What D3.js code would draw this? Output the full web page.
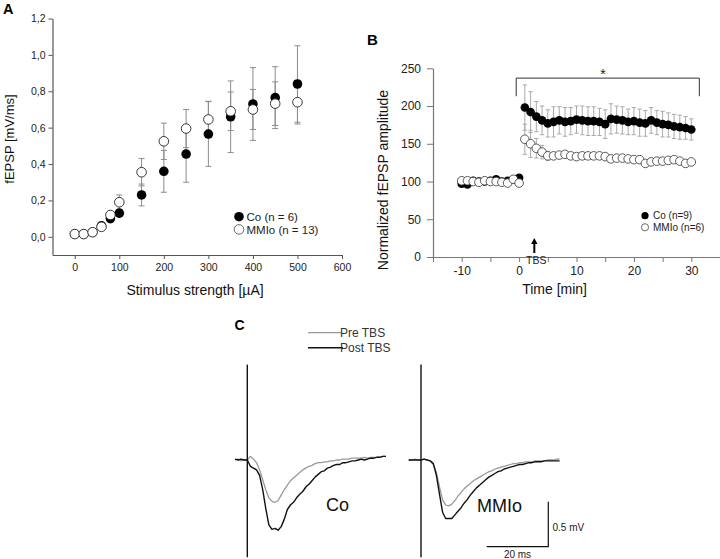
<!DOCTYPE html>
<html><head><meta charset="utf-8">
<script src="https://cdn.jsdelivr.net/npm/d3@7"></script>
<style>
body{margin:0;background:#fff}
svg{display:block}
text{font-family:"Liberation Sans",Arial,Helvetica,sans-serif}
</style>
</head><body>
<svg id="fig" width="720" height="559"></svg>
<script>
// ---------- Panel A data ----------
const stimStrength = [0,20,40,60,80,100,150,200,250,300,350,400,450,500];
const coA      = [0.015,0.015,0.025,0.06,0.10,0.13,0.23,0.36,0.455,0.565,0.66,0.73,0.765,0.84];
const coASE    = [0.005,0.005,0.008,0.01,0.015,0.02,0.06,0.115,0.155,0.178,0.197,0.2,0.17,0.21];
const mmA      = [0.015,0.015,0.025,0.055,0.12,0.19,0.355,0.525,0.595,0.645,0.69,0.70,0.732,0.74];
const mmASE    = [0.005,0.005,0.01,0.01,0.015,0.04,0.075,0.1,0.105,0.1,0.106,0.11,0.12,0.12];
const aYTicks  = [0,0.2,0.4,0.6,0.8,1.0,1.2];
const aXTicks  = [0,100,200,300,400,500,600];

// ---------- Panel B data ----------
const timeBase = [-10,-9,-8,-7,-6,-5,-4,-3,-2,-1,0];
const coBase   = [97,96,101,100,100,101,103,100,101,103,105];
const mmBase   = [101,101,100,99,101,100,100,99,98,103,98];
const baseSE   = [3,3,3,3,3,3,3,3,3,3,3];
const timePost = [1,2,3,4,5,6,7,8,9,10,11,12,13,14,15,16,17,18,19,20,21,22,23,24,25,26,27,28,29,30];
const coPost   = [198,192,186,181,177,179,181,179,180,182,181,180,180,179,176,183,182,181,179,180,178,177,181,178,176,175,173,172,171,169];
const coPostSE = [30,27,20,19,18,20,18,19,18,18,19,19,19,18,19,20,18,18,17,18,18,17,17,16,17,16,16,16,15,14];
const mmPost   = [156,150,144,139,134,134,135,136,134,133,134,134,134,134,133,130,131,131,130,129,129,124,126,127,127,128,129,127,124,126];
const mmPostSE = [20,18,13,9,6,4,4,4,4,4,4,4,4,4,4,4,4,4,4,4,4,4,4,4,4,4,4,4,4,4];
const bYTicks  = [0,50,100,150,200,250];
const bXTicks  = [-15,-10,-5,0,5,10,15,20,25,30,35];
const bXLabels = [-10,0,10,20,30];

// ---------- Panel C data (ms, mV) ----------
const traceTime = [-4,-3,-2,-1,0,1,2,3,4,5,6,7,8,9,10,11,12,13,14,15,16,17,18,19,20,21,22,23,24,25,26,27,28,29,30,31,32,33,34,35,36,37,38,39,40,41,42,43,44,45];
const coPreTBS  = [0,0.01,-0.01,0,0,0.04,0.01,-0.03,-0.11,-0.22,-0.33,-0.42,-0.46,-0.47,-0.45,-0.39,-0.33,-0.28,-0.23,-0.20,-0.17,-0.14,-0.11,-0.09,-0.07,-0.06,-0.04,-0.03,-0.03,-0.02,-0.02,-0.01,-0.01,0,0,0.01,0.01,0.01,0.02,0.02,0.02,0.02,0.03,0.02,0.03,0.03,0.03,0.03,0.04,0.04];
const coPostTBS = [0.01,0,0.01,0,0,-0.07,-0.09,-0.11,-0.17,-0.33,-0.54,-0.72,-0.77,-0.76,-0.78,-0.74,-0.66,-0.55,-0.50,-0.47,-0.42,-0.38,-0.35,-0.30,-0.27,-0.23,-0.19,-0.16,-0.13,-0.12,-0.09,-0.08,-0.06,-0.05,-0.05,-0.03,-0.03,-0.02,-0.01,-0.01,0,0.01,0,0.01,0.02,0.02,0.03,0.03,0.04,0.04];
const mmPreTBS  = [0,0,0.01,0,0,0.01,0,-0.01,-0.05,-0.14,-0.30,-0.44,-0.50,-0.51,-0.49,-0.45,-0.40,-0.36,-0.32,-0.29,-0.26,-0.23,-0.21,-0.19,-0.17,-0.15,-0.13,-0.12,-0.10,-0.09,-0.08,-0.07,-0.06,-0.05,-0.04,-0.04,-0.03,-0.03,-0.02,-0.02,-0.02,-0.01,-0.01,-0.01,-0.01,0,0,0,0.01,0.01];
const mmPostTBS = [0,0,0,0,0,0.01,0,-0.01,-0.04,-0.17,-0.38,-0.58,-0.65,-0.65,-0.65,-0.61,-0.57,-0.53,-0.48,-0.44,-0.39,-0.35,-0.31,-0.28,-0.25,-0.22,-0.19,-0.17,-0.15,-0.13,-0.12,-0.10,-0.09,-0.08,-0.07,-0.06,-0.05,-0.05,-0.04,-0.03,-0.03,-0.02,-0.02,-0.02,-0.01,-0.01,-0.01,-0.01,-0.01,-0.01];
const artifactRange = [1.06,-1.08];

const svg = d3.select("#fig");
const FONT = '"Liberation Sans",Arial,Helvetica,sans-serif';

function styleAxis(g, color, fs){
  g.select(".domain").attr("stroke", color).attr("stroke-width",1.2);
  g.selectAll(".tick line").attr("stroke", color).attr("stroke-width",1);
  g.selectAll(".tick text").attr("fill","#222").attr("font-size",fs).attr("font-family",FONT);
}

// ================= Panel A =================
const xA = d3.scaleLinear().domain([-50,600]).range([52.5,342]);
const yA = d3.scaleLinear().domain([-0.1,1.2]).range([255,18.5]);
const gA = svg.append("g");
gA.append("g").attr("transform","translate(0,255)")
  .call(d3.axisBottom(xA).tickValues(aXTicks).tickSize(4).tickSizeOuter(0).tickPadding(5).tickFormat(d=>String(d)))
  .call(g=>styleAxis(g,"#555",10.5));
gA.append("g").attr("transform","translate(52.5,0)")
  .call(d3.axisLeft(yA).tickValues(aYTicks).tickSize(4).tickSizeOuter(0).tickPadding(3).tickFormat(d=>d3.format(".1f")(d).replace(".",",")))
  .call(g=>styleAxis(g,"#555",10.5));

function errBars(g, xs, ys, ses, xS, yS, cap, color){
  xs.forEach((x,i)=>{
    const cx = xS(x), y1 = yS(ys[i]-ses[i]), y2 = yS(ys[i]+ses[i]);
    g.append("line").attr("x1",cx).attr("x2",cx).attr("y1",y1).attr("y2",y2).attr("stroke",color).attr("stroke-width",1);
    [y1,y2].forEach(yy=>g.append("line").attr("x1",cx-cap).attr("x2",cx+cap).attr("y1",yy).attr("y2",yy).attr("stroke",color).attr("stroke-width",1));
  });
}
errBars(gA, stimStrength, coA, coASE, xA, yA, 3, "#8c8c8c");
errBars(gA, stimStrength, mmA, mmASE, xA, yA, 3, "#8c8c8c");
gA.selectAll("circle.co").data(stimStrength).join("circle")
  .attr("cx",d=>xA(d)).attr("cy",(d,i)=>yA(coA[i])).attr("r",4.8).attr("fill","#000");
gA.selectAll("circle.mm").data(stimStrength).enter().append("circle")
  .attr("cx",d=>xA(d)).attr("cy",(d,i)=>yA(mmA[i])).attr("r",4.8).attr("fill","#fff").attr("stroke","#222").attr("stroke-width",0.9);

// legend A
gA.append("circle").attr("cx",239).attr("cy",216.7).attr("r",4.8).attr("fill","#000");
gA.append("text").attr("x",246.5).attr("y",221.3).attr("font-size",11.5).attr("fill","#222").text("Co (n = 6)");
gA.append("circle").attr("cx",239).attr("cy",229.4).attr("r",4.8).attr("fill","#fff").attr("stroke","#444").attr("stroke-width",0.8);
gA.append("text").attr("x",246.5).attr("y",234).attr("font-size",11.5).attr("fill","#222").text("MMIo (n = 13)");

gA.append("text").attr("x",195).attr("y",295).attr("text-anchor","middle").attr("font-size",14).attr("fill","#111").text("Stimulus strength [\u00B5A]");
gA.append("text").attr("transform","translate(14,139) rotate(-90)").attr("text-anchor","middle").attr("font-size",13).attr("fill","#111").text("fEPSP [mV/ms]");
gA.append("text").attr("x",3).attr("y",13.5).attr("font-size",14.5).attr("font-weight","bold").text("A");

// ================= Panel B =================
const xB = d3.scaleLinear().domain([-15,35]).range([433,720]);
const yB = d3.scaleLinear().domain([0,250]).range([257,68.3]);
const gB = svg.append("g");
gB.append("g").attr("transform","translate(0,257)")
  .call(d3.axisBottom(xB).tickValues(bXTicks).tickSize(5).tickSizeOuter(0).tickPadding(4).tickFormat(d=>bXLabels.includes(d)?String(d):""))
  .call(g=>styleAxis(g,"#777",12));
gB.append("g").attr("transform","translate(433,0)")
  .call(d3.axisLeft(yB).tickValues(bYTicks).tickSize(6).tickSizeOuter(0).tickPadding(6))
  .call(g=>styleAxis(g,"#777",12));

errBars(gB, timeBase, coBase, baseSE, xB, yB, 2, "#aaa");
errBars(gB, timeBase, mmBase, baseSE, xB, yB, 2, "#aaa");
errBars(gB, timePost, coPost, coPostSE, xB, yB, 2.2, "#aaa");
errBars(gB, timePost, mmPost, mmPostSE, xB, yB, 2.2, "#aaa");

const coAllT = timeBase.concat(timePost), coAllV = coBase.concat(coPost);
const mmAllT = timeBase.concat(timePost), mmAllV = mmBase.concat(mmPost);
coAllT.forEach((t,i)=>gB.append("circle").attr("cx",xB(t)).attr("cy",yB(coAllV[i])).attr("r",4.3).attr("fill","#000"));
mmAllT.forEach((t,i)=>gB.append("circle").attr("cx",xB(t)).attr("cy",yB(mmAllV[i])).attr("r",4.3).attr("fill","#fff").attr("stroke","#333").attr("stroke-width",0.8));

// significance bracket
gB.append("path").attr("d",`M${xB(-0.5)},${yB(213)}V${yB(237)}H${xB(31.4)}V${yB(213)}`)
  .attr("fill","none").attr("stroke","#333").attr("stroke-width",1);
gB.append("text").attr("x",xB(14.6)).attr("y",79).attr("text-anchor","middle").attr("font-size",14).attr("fill","#222").text("*");

// TBS arrow
const ax = xB(2.65);
gB.append("line").attr("x1",ax).attr("x2",ax).attr("y1",253).attr("y2",243).attr("stroke","#000").attr("stroke-width",2);
gB.append("path").attr("d",`M${ax-3.2},${244}L${ax},${238}L${ax+3.2},${244}Z`).attr("fill","#000");
gB.append("text").attr("x",526).attr("y",263.5).attr("font-size",10.5).attr("fill","#222").text("TBS");

// legend B
gB.append("circle").attr("cx",645).attr("cy",215.7).attr("r",3.6).attr("fill","#000");
gB.append("text").attr("x",653).attr("y",219.3).attr("font-size",10).attr("fill","#222").text("Co (n=9)");
gB.append("circle").attr("cx",645).attr("cy",227.3).attr("r",3.6).attr("fill","#fff").attr("stroke","#444").attr("stroke-width",0.8);
gB.append("text").attr("x",653).attr("y",231).attr("font-size",10).attr("fill","#222").text("MMIo (n=6)");

gB.append("text").attr("x",554.6).attr("y",294).attr("text-anchor","middle").attr("font-size",14).attr("fill","#111").text("Time [min]");
gB.append("text").attr("transform","translate(387.5,180) rotate(-90)").attr("text-anchor","middle").attr("font-size",14).attr("fill","#111").text("Normalized fEPSP amplitude");
gB.append("text").attr("x",367).attr("y",44.5).attr("font-size",15).attr("font-weight","bold").text("B");

// ================= Panel C =================
const xCo = d3.scaleLinear().domain([-5,46]).range([231.9,389]);
const xMM = d3.scaleLinear().domain([-5,46]).range([405.6,562.7]);
const yC  = d3.scaleLinear().domain([-1.1,1.1]).range([559,361]);
const gC = svg.append("g");
function trace(xS, vals, color, w){
  const line = d3.line().x((d,i)=>xS(traceTime[i])).y(d=>yC(d));
  gC.append("path").attr("d",line(vals)).attr("fill","none").attr("stroke",color).attr("stroke-width",w).attr("stroke-linejoin","round");
}
trace(xCo, coPreTBS, "#999", 1.3);
trace(xCo, coPostTBS, "#111", 1.4);
trace(xMM, mmPreTBS, "#999", 1.3);
trace(xMM, mmPostTBS, "#111", 1.4);
[xCo,xMM].forEach(xS=>{
  gC.append("line").attr("x1",xS(0)).attr("x2",xS(0)).attr("y1",yC(artifactRange[0])).attr("y2",yC(artifactRange[1])).attr("stroke","#111").attr("stroke-width",1.4);
});

// legend C
gC.append("line").attr("x1",308).attr("x2",341).attr("y1",332.7).attr("y2",332.7).attr("stroke","#999").attr("stroke-width",1.3);
gC.append("text").attr("x",340).attr("y",337).attr("font-size",12).attr("fill","#333").text("Pre TBS");
gC.append("line").attr("x1",308).attr("x2",343).attr("y1",347.7).attr("y2",347.7).attr("stroke","#111").attr("stroke-width",1.4);
gC.append("text").attr("x",340).attr("y",352).attr("font-size",12).attr("fill","#333").text("Post TBS");

gC.append("text").attr("x",337.5).attr("y",510.7).attr("text-anchor","middle").attr("font-size",18).attr("fill","#111").text("Co");
gC.append("text").attr("x",499.5).attr("y",512.3).attr("text-anchor","middle").attr("font-size",18).attr("fill","#111").text("MMIo");

// scale bar
const sbX = 548.3, sbY = 546.7;
const msLen = xMM(20) - xMM(0), mvLen = yC(0) - yC(0.5);
gC.append("path").attr("d",`M${sbX-msLen},${sbY}H${sbX}V${sbY-mvLen}`).attr("fill","none").attr("stroke","#111").attr("stroke-width",1.2);
gC.append("text").attr("x",552.5).attr("y",531).attr("font-size",10).attr("fill","#222").text("0.5 mV");
gC.append("text").attr("x",sbX-msLen/2).attr("y",558).attr("text-anchor","middle").attr("font-size",10).attr("fill","#222").text("20 ms");
gC.append("text").attr("x",234.5).attr("y",330).attr("font-size",14).attr("font-weight","bold").text("C");
</script>
</body></html>
